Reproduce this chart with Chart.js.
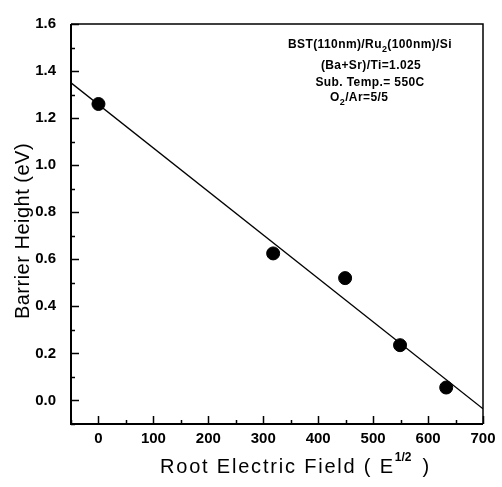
<!DOCTYPE html>
<html>
<head>
<meta charset="utf-8">
<script src="https://cdn.jsdelivr.net/npm/chart.js@4.4.0/dist/chart.umd.min.js"></script>
<style>
  html, body { margin: 0; padding: 0; background: #fff; }
  #wrap { width: 502px; height: 487px; }
</style>
</head>
<body>
<div id="wrap"><canvas id="chart" width="502" height="487"></canvas></div>
<script>
// measured points
const fieldX = [0, 318, 449, 549, 633];
const barrierY = [1.26, 0.625, 0.52, 0.235, 0.055];
const fitX = [-50, 700];
const fitY = [1.35, -0.035];
// tick labels
const xTicks = [0, 100, 200, 300, 400, 500, 600, 700];
const yTicks = [0.0, 0.2, 0.4, 0.6, 0.8, 1.0, 1.2, 1.4, 1.6];
const noteLines = ['(Ba+Sr)/Ti=1.025', 'Sub. Temp.= 550C'];

const FONT = '"Liberation Sans", Arial, sans-serif';

// frame, inward ticks, titles and the text block
const decorPlugin = {
    id: 'decor',
    afterDraw(chart) {
        const ctx = chart.ctx;
        const a = chart.chartArea;
        const xs = chart.scales.x, ys = chart.scales.y;
        ctx.save();
        ctx.strokeStyle = '#000';

        // ticks (major on labels, minor halfway)
        ctx.lineWidth = 1.5;
        ctx.beginPath();
        for (let v = -50; v <= 700; v += 50) {
            const px = Math.round(xs.getPixelForValue(v)) + 0.5;
            const len = (v % 100 === 0) ? 8 : 4;
            ctx.moveTo(px, a.bottom); ctx.lineTo(px, a.bottom - len);
        }
        for (let i = -1; i <= 16; i++) {
            const py = Math.round(ys.getPixelForValue(i / 10)) + 0.5;
            const len = (i % 2 === 0) ? 8 : 4;
            ctx.moveTo(a.left, py); ctx.lineTo(a.left + len, py);
        }
        ctx.stroke();

        // frame
        ctx.lineWidth = 2;
        ctx.beginPath();
        ctx.moveTo(a.left, a.top); ctx.lineTo(a.left, a.bottom); ctx.lineTo(a.right, a.bottom);
        ctx.stroke();
        ctx.lineWidth = 1.5;
        ctx.beginPath();
        ctx.moveTo(a.left, a.top); ctx.lineTo(a.right, a.top); ctx.lineTo(a.right, a.bottom);
        ctx.stroke();

        ctx.fillStyle = '#000';

        // x title with superscript
        ctx.font = '20px ' + FONT;
        ctx.textBaseline = 'alphabetic';
        ctx.textAlign = 'left';
        ctx.letterSpacing = '1.8px';
        let tx = 160;
        const part1 = 'Root Electric Field ( E';
        ctx.fillText(part1, tx, 473);
        tx += ctx.measureText(part1).width;
        ctx.letterSpacing = '0px';
        ctx.font = 'bold 12px ' + FONT;
        ctx.fillText('1/2', tx, 461);
        tx += ctx.measureText('1/2').width + 11;
        ctx.font = '20px ' + FONT;
        ctx.fillText(')', tx, 473);

        // y title
        ctx.save();
        ctx.translate(23, 231);
        ctx.rotate(-Math.PI / 2);
        ctx.textAlign = 'center';
        ctx.textBaseline = 'middle';
        ctx.font = '20px ' + FONT;
        ctx.letterSpacing = '0.5px';
        ctx.fillText('Barrier Height (eV)', 0, 0);
        ctx.restore();

        // note block
        ctx.font = 'bold 12px ' + FONT;
        ctx.letterSpacing = '0.4px';
        ctx.textBaseline = 'middle';
        ctx.textAlign = 'left';
        // line 1 with subscript 2
        let nx = 288;
        const n1a = 'BST(110nm)/Ru', n1b = '(100nm)/Si';
        ctx.fillText(n1a, nx, 45);
        nx += ctx.measureText(n1a).width;
        ctx.font = 'bold 9px ' + FONT;
        ctx.fillText('2', nx, 50);
        nx += ctx.measureText('2').width;
        ctx.font = 'bold 12px ' + FONT;
        ctx.fillText(n1b, nx, 45);
        ctx.textAlign = 'center';
        ctx.fillText(noteLines[0], 371, 66);
        ctx.fillText(noteLines[1], 370, 83);
        ctx.textAlign = 'left';
        nx = 330;
        ctx.fillText('O', nx, 98);
        nx += ctx.measureText('O').width;
        ctx.font = 'bold 9px ' + FONT;
        ctx.fillText('2', nx, 103);
        nx += ctx.measureText('2').width;
        ctx.font = 'bold 12px ' + FONT;
        ctx.fillText('/Ar=5/5', nx, 98);

        ctx.restore();
    }
};

new Chart(document.getElementById('chart'), {
    type: 'scatter',
    data: {
        datasets: [
            {
                type: 'line',
                data: fitX.map((x, i) => ({ x: x, y: fitY[i] })),
                borderColor: '#000',
                borderWidth: 1.3,
                pointRadius: 0,
                fill: false
            },
            {
                data: fieldX.map((x, i) => ({ x: x, y: barrierY[i] })),
                backgroundColor: '#000',
                borderColor: '#000',
                pointRadius: 6.5,
                pointHoverRadius: 6.5
            }
        ]
    },
    options: {
        responsive: false,
        animation: false,
        events: [],
        layout: { padding: { top: 15, right: 19, left: 0, bottom: 0 } },
        plugins: { legend: { display: false }, tooltip: { enabled: false } },
        scales: {
            x: {
                type: 'linear',
                min: -50, max: 700,
                afterBuildTicks: (s) => { s.ticks = xTicks.map(v => ({ value: v })); },
                afterFit: (s) => { s.height = 63; },
                grid: { display: false, drawTicks: false },
                border: { display: false },
                ticks: {
                    color: '#000',
                    padding: 6,
                    maxRotation: 0,
                    font: { family: FONT, size: 15, weight: 'bold' }
                }
            },
            y: {
                type: 'linear',
                min: -0.1, max: 1.6,
                afterBuildTicks: (s) => { s.ticks = yTicks.map(v => ({ value: v })); },
                afterFit: (s) => { s.width = 71; },
                grid: { display: false, drawTicks: false },
                border: { display: false },
                ticks: {
                    color: '#000',
                    padding: 15,
                    callback: (v) => v.toFixed(1),
                    font: { family: FONT, size: 15, weight: 'bold' }
                }
            }
        }
    },
    plugins: [decorPlugin]
});
</script>
</body>
</html>
